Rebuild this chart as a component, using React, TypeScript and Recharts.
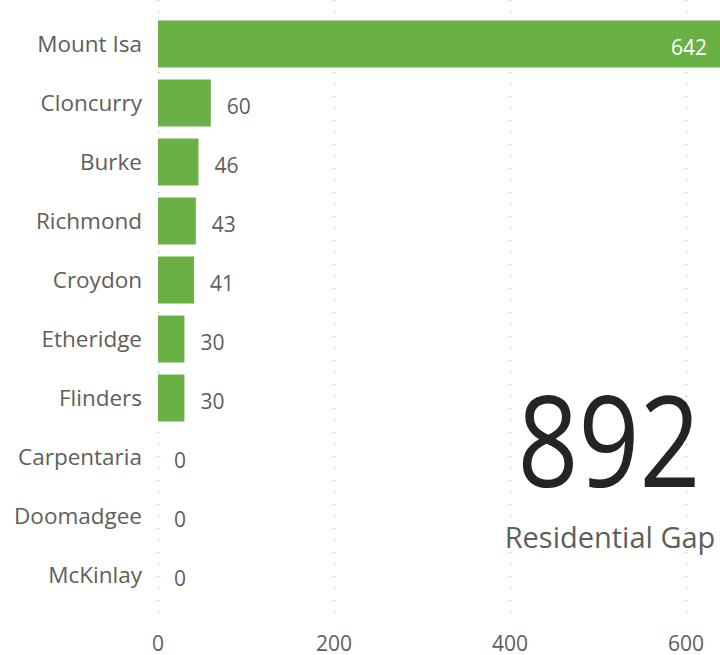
import { BarChart, Bar, XAxis, YAxis, CartesianGrid, LabelList } from 'recharts'

const regions = [
  'Mount Isa',
  'Cloncurry',
  'Burke',
  'Richmond',
  'Croydon',
  'Etheridge',
  'Flinders',
  'Carpentaria',
  'Doomadgee',
  'McKinlay',
]
const gaps = [642, 60, 46, 43, 41, 30, 30, 0, 0, 0]
const xTicks = [0, 200, 400, 600]
const totalGap = 892
const cardLabel = 'Residential Gap'

const data = regions.map((region, i) => ({ region, gap: gaps[i] }))

const FONT = '"Open Sans", "Noto Sans", sans-serif'
const TEXT = '#605e5c'

function ValueLabel(props: any) {
  const { x, y, width, height, value } = props
  const inside = value >= 600
  const cy = y + height / 2 + 3
  return (
    <text
      x={inside ? x + width - 16 : x + width + 16}
      y={cy}
      dominantBaseline="central"
      textAnchor={inside ? 'end' : 'start'}
      fill={inside ? '#ffffff' : TEXT}
      fontSize={21}
      fontFamily={FONT}
    >
      {value}
    </text>
  )
}

export default function App() {
  return (
    <div style={{ position: 'absolute', left: 0, top: 0, width: 720, height: 655, overflow: 'hidden', background: '#fff' }}>
      <BarChart
        width={720}
        height={655}
        data={data}
        layout="vertical"
        margin={{ top: 0, right: 0, bottom: 0, left: 0 }}
        barSize={47}
      >
        <CartesianGrid
          horizontal={false}
          stroke="#a8a8a8"
          strokeDasharray="1 11"
          shapeRendering="crispEdges"
        />
        <XAxis
          type="number"
          domain={[0, 638.6]}
          allowDataOverflow
          ticks={xTicks}
          axisLine={false}
          tickLine={false}
          tickMargin={10}
          height={35}
          tick={{ fill: TEXT, fontSize: 21, fontFamily: FONT }}
        />
        <YAxis
          type="category"
          dataKey="region"
          width={158}
          axisLine={false}
          tickLine={false}
          tickMargin={10}
          padding={{ top: 14.5, bottom: 15.5 }}
          tick={{ fill: TEXT, fontSize: 22.5, fontFamily: FONT }}
        />
        <Bar dataKey="gap" fill="#69b045" minPointSize={0.01} isAnimationActive={false}>
          <LabelList dataKey="gap" content={ValueLabel} />
        </Bar>
      </BarChart>
      <div
        style={{
          position: 'absolute',
          left: 480,
          width: 258,
          top: 378,
          textAlign: 'center',
          fontFamily: FONT,
          fontSize: 127,
          lineHeight: '120px',
          color: '#252423',
          transform: 'scaleX(0.84)',
        }}
      >
        {totalGap}
      </div>
      <div
        style={{
          position: 'absolute',
          left: 480,
          width: 260,
          top: 519,
          textAlign: 'center',
          fontFamily: FONT,
          fontSize: 29,
          lineHeight: '36px',
          color: TEXT,
        }}
      >
        {cardLabel}
      </div>
    </div>
  )
}
